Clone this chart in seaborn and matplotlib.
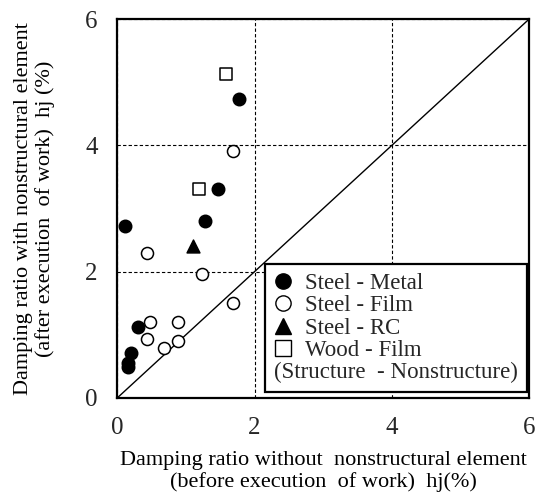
import matplotlib
matplotlib.use("Agg")
import matplotlib.pyplot as plt
import seaborn as sns
import pandas as pd
from matplotlib.lines import Line2D

sns.set_theme(style="white")
plt.rcParams['font.family'] = ['Liberation Serif', 'DejaVu Serif']

# Data
metal_x = [1.78, 1.47, 1.28, 0.12, 0.31, 0.20, 0.16, 0.16]
metal_y = [4.73, 3.31, 2.81, 2.73, 1.12, 0.72, 0.55, 0.49]
film_x = [1.69, 0.44, 1.24, 1.69, 0.48, 0.89, 0.44, 0.89, 0.68]
film_y = [3.91, 2.30, 1.96, 1.51, 1.21, 1.21, 0.93, 0.90, 0.79]
rc_x = [1.10]
rc_y = [2.40]
wood_x = [1.58, 1.19]
wood_y = [5.13, 3.31]
labels = ["Steel - Metal", "Steel - Film", "Steel - RC", "Wood - Film"]
note = "(Structure  - Nonstructure)"
ticks = [0, 2, 4, 6]

fig = plt.figure(figsize=(5.4, 5.0), dpi=100)
ax = fig.add_axes([0.217, 0.204, 0.763, 0.758])

df = pd.concat([
    pd.DataFrame({"x": metal_x, "y": metal_y, "g": labels[0]}),
    pd.DataFrame({"x": film_x, "y": film_y, "g": labels[1]}),
    pd.DataFrame({"x": rc_x, "y": rc_y, "g": labels[2]}),
    pd.DataFrame({"x": wood_x, "y": wood_y, "g": labels[3]}),
])

specs = {
    labels[0]: dict(marker="o", fc="black", s=80),
    labels[1]: dict(marker="o", fc="white", s=75),
    labels[2]: dict(marker="^", fc="black", s=85),
    labels[3]: dict(marker="s", fc="white", s=70),
}
for g in labels:
    sub = df[df.g == g]
    sp = specs[g]
    sns.scatterplot(data=sub, x="x", y="y", ax=ax, marker=sp["marker"],
                    color=sp["fc"], edgecolor="black", linewidth=1.1,
                    s=sp["s"], zorder=4, legend=False)

# diagonal y = x
ax.plot(ticks, ticks, color="black", lw=1.0, zorder=3)

ax.set_xlim(0, 6)
ax.set_ylim(0, 6)
ax.set_xticks(ticks)
ax.set_yticks(ticks)
ax.set_xticklabels([str(t) for t in ticks], fontsize=18)
ax.set_yticklabels([str(t) for t in ticks], fontsize=18)
ax.tick_params(axis="x", length=0, pad=14)
ax.tick_params(axis="y", length=0, pad=14)
ax.grid(True, color="black", linestyle=(0, (3, 2)), lw=0.8)
for s in ax.spines.values():
    s.set_color("black")
    s.set_linewidth(1.6)

ax.set_xlabel("Damping ratio without  nonstructural element\n(before execution  of work)  hj(%)",
              fontsize=16, color="black", labelpad=8, linespacing=1.18)
ax.set_ylabel("Damping ratio with nonstructural element\n(after execution  of work)  hj (%)",
              fontsize=16, color="black", labelpad=22, linespacing=1.12)

handles = [
    Line2D([], [], marker="o", ls="", mfc="black", mec="black", ms=11),
    Line2D([], [], marker="o", ls="", mfc="white", mec="black", ms=11, mew=1.0),
    Line2D([], [], marker="^", ls="", mfc="black", mec="black", ms=11),
    Line2D([], [], marker="s", ls="", mfc="white", mec="black", ms=11, mew=1.0),
]
leg = ax.legend(handles, labels, title=note, alignment="left",
                loc="upper left", bbox_to_anchor=(2.15 / 6, 2.12 / 6),
                fontsize=16.5, title_fontsize=16.5, frameon=True, fancybox=False,
                edgecolor="black", framealpha=1, borderpad=0.4,
                labelspacing=0.05, handletextpad=0.55, handlelength=0.8,
                borderaxespad=0)
leg.get_frame().set_linewidth(1.6)
leg.set_zorder(10)
# put the note line below the entries
box = leg._legend_box
box._children = box._children[::-1]

fig.savefig("out.png", dpi=100)
